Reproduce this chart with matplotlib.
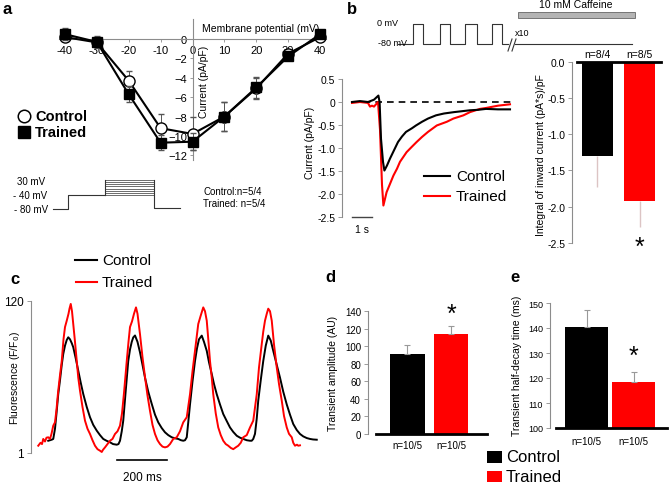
import numpy as np
import matplotlib
matplotlib.use("Agg")
import matplotlib.pyplot as plt
from matplotlib.patches import Rectangle

plt.rcParams['font.family'] = ['Liberation Sans', 'DejaVu Sans']

# ---------------- data ----------------
# panel a: I-V relation
iv_voltage = [-40, -30, -20, -10, 0, 10, 20, 30, 40]
iv_control = [0.2, -0.35, -4.3, -9.2, -9.8, -8.0, -5.1, -1.5, 0.2]
iv_control_err = [0.4, 0.5, 1.0, 1.5, 1.7, 1.5, 1.1, 0.3, 0.2]
iv_trained = [0.5, -0.3, -5.7, -10.7, -10.6, -8.0, -5.0, -1.8, 0.5]
iv_trained_err = [0.6, 0.6, 0.8, 0.8, 0.9, 1.5, 1.1, 0.3, 0.2]
step_levels_mv = [-40, -30, -20, -10, 0, 10, 20, 30]

# panel b: caffeine-induced current traces (time s, current pA/pF)
caf_ctrl_t = [0.0, 0.4, 0.8, 1.1, 1.32, 1.38, 1.45, 1.55, 1.62, 1.75, 1.9, 2.1, 2.3, 2.5, 2.7,
              3.0, 3.2, 3.5, 3.8, 4.2, 4.6, 5.1, 5.5, 5.9, 6.3, 6.7, 7.3, 7.9]
caf_ctrl_v = [0.0, 0.02, 0.0, 0.05, 0.14, 0.0, -0.8, -1.3, -1.49, -1.38, -1.23, -1.05, -0.87, -0.75, -0.65,
              -0.57, -0.51, -0.43, -0.36, -0.29, -0.25, -0.22, -0.2, -0.18, -0.17, -0.15, -0.16, -0.16]
caf_tr_t = [0.0, 0.4, 0.8, 0.9, 1.0, 1.1, 1.3, 1.4, 1.5, 1.57, 1.73, 1.9, 2.07, 2.25, 2.4, 2.73,
            3.0, 3.23, 3.5, 3.8, 4.24, 4.74, 5.07, 5.57, 5.9, 6.4, 6.7, 7.3, 7.9]
caf_tr_v = [-0.02, 0.0, -0.02, -0.1, -0.08, -0.1, 0.0, -0.6, -1.8, -2.25, -1.96, -1.78, -1.6, -1.45, -1.3, -1.09,
            -0.97, -0.87, -0.76, -0.65, -0.51, -0.43, -0.36, -0.29, -0.22, -0.15, -0.13, -0.08, -0.05]

# panel b: integral of inward current
integ_groups = ['Control', 'Trained']
integ_vals = [-1.30, -1.92]
integ_err = [0.43, 0.36]
integ_n = ['n=8/4', 'n=8/5']

# panel c: calcium transients (time ms, F/F0)
ca_tr_t = [0, 9, 15, 20, 27, 33, 40, 47, 53, 60, 67, 73, 79, 87, 94, 101, 107, 114, 121, 125, 130, 135, 140,
           147, 154, 160, 167, 177, 187, 197, 207, 217, 227, 237, 247, 254, 259, 267, 277, 287, 297, 307, 317,
           327, 335, 343, 354, 361, 367, 375, 383, 391, 397, 407, 417, 427, 437, 447, 457, 467, 477, 487, 497,
           507, 517, 527, 540, 554, 567, 580, 594, 607, 617, 627, 640, 649, 660, 667, 674, 681, 687, 694, 700,
           710, 720, 730, 740, 750, 760, 770, 780, 790, 800, 810, 820, 834, 847, 860, 874, 883, 894, 900, 907,
           914, 920, 927, 934, 943, 954, 963, 974, 983, 994, 1003, 1014, 1020, 1027, 1035, 1040, 1047]
ca_tr_v = [6.7, 9, 8, 12, 10, 13, 13.3, 12, 16, 22.4, 25, 35, 48, 62, 73, 90, 99.6, 104.6, 110, 114, 117.7, 112,
           102, 88, 73, 60, 49.8, 37, 26.3, 20, 15.9, 11, 6.7, 4, 2.8, 1.8, 3.5, 5.4, 8, 10.6, 12, 15.9, 18,
           22.4, 32, 48, 73, 88, 99.6, 104, 110, 115, 110, 94, 76, 60.5, 46, 34, 23, 15.9, 11, 8, 6,
           5.4, 6, 8, 12, 13.3, 18, 25, 29, 47, 65, 81, 102, 108, 115, 112, 104.6, 88, 73, 60, 47,
           32, 21, 15, 10.6, 8, 6.7, 5, 4, 5.4, 6.7, 9, 13.3, 15, 21, 26.3, 47, 68, 86.3, 96, 104.6,
           110, 114, 112, 104.6, 86, 68, 55, 42, 30, 21, 16, 13.3, 9, 6.7, 7.5, 6.7, 7]
ca_ct_t = [40, 47, 55, 60, 67, 73, 80, 87, 94, 100, 107, 114, 120, 127, 134, 140, 150, 160, 170, 180, 194, 207,
           220, 234, 247, 260, 274, 287, 299, 314, 321, 327, 334, 340, 350, 360, 367, 374, 380, 387, 397, 407,
           417, 427, 440, 454, 467, 480, 494, 507, 520, 534, 547, 560, 571, 580, 587, 594, 600, 607, 617, 627,
           635, 643, 654, 663, 674, 683, 694, 703, 714, 727, 740, 754, 767, 780, 794, 807, 820, 834, 847, 854,
           860, 867, 874, 880, 890, 900, 910, 920, 930, 940, 954, 967, 980, 994, 1007, 1020, 1034, 1047, 1060,
           1074, 1087, 1099, 1114]
ca_ct_v = [10.6, 11, 11.5, 12, 20, 32, 47, 58, 70, 78.5, 85, 89.5, 91.6, 90, 87, 83.8, 75, 65.5, 56, 47.2, 37, 29,
           23, 18.5, 15, 12, 10.5, 9.4, 8, 7.5, 8, 10.6, 18, 26.3, 50, 73, 82, 88, 91.5, 93, 88, 79.8,
           70, 60, 49, 39.4, 31, 25, 20.5, 17.2, 15, 13.3, 12.5, 12, 11, 10.6, 11, 13.3, 25, 39, 57, 73,
           83, 90, 92.9, 88, 81, 72, 62.8, 55, 47, 39, 31.5, 26, 21, 17.5, 14.5, 13, 12, 11, 10.6, 10.6,
           12, 16, 28, 42, 58, 73, 85, 92.9, 89, 81, 70, 60, 49, 39, 31, 23.7, 19, 15.9, 14,
           12.7, 12, 11.6, 11.4]

# panel d / e
amp_vals = [91, 114]
amp_err = [10, 9]
decay_vals = [140.5, 118.4]
decay_err = [6.8, 4.0]
de_n = ['n=10/5', 'n=10/5']

BLACK = '#000000'
RED = '#ff0000'
GREY = '#8c8c8c'
W, H = 669, 489

fig = plt.figure(figsize=(W / 100, H / 100), dpi=100)

ov = fig.add_axes([0, 0, 1, 1])
ov.set_xlim(0, W)
ov.set_ylim(H, 0)
ov.axis('off')


def px_axes(l, t, r, b):
    return fig.add_axes([l / W, 1 - b / H, (r - l) / W, (b - t) / H])


def style_left(ax, fs):
    for s in ['top', 'right', 'bottom']:
        ax.spines[s].set_visible(False)
    ax.spines['left'].set_color(GREY)
    ax.spines['left'].set_linewidth(0.8)
    ax.tick_params(axis='y', length=3, width=0.6, color=GREY, labelsize=fs, pad=2)
    ax.set_xticks([])
    ax.patch.set_alpha(0)


# ---------------- panel a ----------------
axA = px_axes(55, 15, 330, 165)
axA.patch.set_alpha(0)
axA.set_xlim(-43.1, 43.1)
axA.set_ylim(-12.9, 2.58)
for s in ['top', 'right']:
    axA.spines[s].set_visible(False)
axA.spines['left'].set_position(('data', 0))
axA.spines['bottom'].set_position(('data', 0))
axA.spines['left'].set_bounds(-12.5, 2.1)
axA.spines['bottom'].set_bounds(-42, 42)
for s in ['left', 'bottom']:
    axA.spines[s].set_color(GREY)
    axA.spines[s].set_linewidth(0.8)
axA.set_xticks(iv_voltage)
axA.set_xticklabels([str(v) for v in iv_voltage])
axA.set_yticks([0, -2, -4, -6, -8, -10, -12])
axA.tick_params(axis='both', length=2, width=0.6, color=GREY, labelsize=8, pad=2)
axA.errorbar(iv_voltage, iv_control, yerr=iv_control_err, fmt='-o', color=BLACK, mfc='white',
             mec=BLACK, ms=8, mew=1.0, lw=1.5, capsize=2, elinewidth=0.7, ecolor='#555555', zorder=3)
axA.errorbar(iv_voltage, iv_trained, yerr=iv_trained_err, fmt='-s', color=BLACK, mfc=BLACK,
             mec=BLACK, ms=6.5, lw=1.5, capsize=2, elinewidth=0.7, ecolor='#555555', zorder=4)
ov.text(261, 29, 'Membrane potential (mV)', ha='center', va='center', fontsize=7.5)
ov.text(204, 82, 'Current (pA/pF)', ha='center', va='center', fontsize=7.5, rotation=90)
ov.plot([24], [117], marker='o', ms=9, mfc='white', mec=BLACK, mew=1.1)
ov.text(35, 117, 'Control', fontsize=10.5, fontweight='bold', va='center')
ov.plot([24], [133], marker='s', ms=8, mfc=BLACK, mec=BLACK)
ov.text(35, 133, 'Trained', fontsize=10.5, fontweight='bold', va='center')

# protocol a
ov.plot([53, 68, 68, 105], [210, 210, 196, 196], color='#333333', lw=0.8)
for mv in step_levels_mv:
    yy = 196 - (mv + 40) / 70 * 15
    ov.plot([105, 154], [yy, yy], color='#555555', lw=0.6)
ov.plot([105, 105], [196, 181], color='#333333', lw=0.8)
ov.plot([154, 154, 180], [181, 209, 209], color='#333333', lw=0.8)
ov.text(45, 182, '30 mV', ha='right', va='center', fontsize=7)
ov.text(47, 196, '- 40 mV', ha='right', va='center', fontsize=7)
ov.text(48, 210, '- 80 mV', ha='right', va='center', fontsize=7)
ov.text(203, 192, 'Control:n=5/4', ha='left', va='center', fontsize=7)
ov.text(203, 204, 'Trained: n=5/4', ha='left', va='center', fontsize=7)

# ---------------- panel b protocol ----------------
ov.plot([398, 413, 413, 423, 423, 440, 440, 450, 450, 465, 465, 477, 477, 492, 492, 502, 502, 508],
        [45, 45, 25, 25, 45, 45, 25, 25, 45, 45, 25, 25, 45, 45, 25, 25, 45, 45], color='#333333', lw=0.8)
ov.plot([515, 632], [45, 45], color='#333333', lw=0.8)
ov.plot([508, 512], [52, 40], color='#333333', lw=0.8)
ov.plot([512, 516], [52, 40], color='#333333', lw=0.8)
ov.text(515, 33, 'x10', fontsize=6.5, va='center', ha='left')
ov.text(398, 23, '0 mV', fontsize=6.5, va='center', ha='right')
ov.text(407, 43, '-80 mV', fontsize=6.5, va='center', ha='right')
ov.add_patch(Rectangle((518, 13), 117, 6, facecolor='#b4b4b4', edgecolor='#666666', lw=0.6))
ov.text(576, 5, '10 mM Caffeine', fontsize=7.5, ha='center', va='center')

# ---------------- panel b trace ----------------
axB = px_axes(342, 80, 520, 218)
style_left(axB, 7.5)
axB.set_xlim(-0.5, 8.4)
axB.set_ylim(-2.5, 0.5)
axB.set_yticks([0.5, 0, -0.5, -1.0, -1.5, -2.0, -2.5])
axB.set_yticklabels(['0.5', '0', '-0.5', '-1.0', '-1.5', '-2.0', '-2.5'])
axB.plot([0, 8], [0, 0], color=BLACK, lw=1.2, dashes=(4, 3))
axB.plot(caf_tr_t, caf_tr_v, color=RED, lw=1.5)
axB.plot(caf_ctrl_t, caf_ctrl_v, color=BLACK, lw=1.5)
axB.plot([0, 1], [-2.5, -2.5], color='#444444', lw=1, clip_on=False)
axB.text(0.5, -2.76, '1 s', ha='center', va='center', fontsize=7.5)
ov.text(310, 143, 'Current (pA/pF)', rotation=90, ha='center', va='center', fontsize=7.5)
ov.plot([424, 450], [177, 177], color=BLACK, lw=1.5)
ov.text(456, 177, 'Control', fontsize=11, va='center')
ov.plot([424, 450], [197, 197], color=RED, lw=1.5)
ov.text(456, 197, 'Trained', fontsize=11, va='center')

# ---------------- panel b bar ----------------
axBB = px_axes(572, 62.7, 665, 244)
style_left(axBB, 7.5)
axBB.set_xlim(-0.607, 1.607)
axBB.set_ylim(-2.5, 0)
xb = np.arange(len(integ_groups))
axBB.bar(xb, integ_vals, width=0.76, color=[BLACK, RED])
axBB.errorbar(xb, integ_vals, yerr=[integ_err, [0, 0]], fmt='none', ecolor='#dcc4c4',
              elinewidth=1.0, capsize=0)
axBB.plot([-0.488, 1.512], [0, 0], color=BLACK, lw=2, clip_on=False)
axBB.set_yticks([0, -0.5, -1.0, -1.5, -2.0, -2.5])
axBB.set_yticklabels(['0.0', '-0.5', '-1.0', '-1.5', '-2.0', '-2.5'])
for i, t in enumerate(integ_n):
    axBB.text(xb[i], 0.106, t, ha='center', va='center', fontsize=7.5)
axBB.text(1, -2.55, '*', ha='center', va='center', fontsize=18)
ov.text(541, 155, 'Integral of inward current (pA*s)/pF', rotation=90, ha='center', va='center',
        fontsize=7.5)

# ---------------- panel c ----------------
axC = px_axes(31, 302, 320, 454)
style_left(axC, 8.5)
axC.set_xlim(-29, 1127)
axC.set_ylim(1, 120)
axC.set_yticks([1, 120])
axC.plot(ca_ct_t, ca_ct_v, color=BLACK, lw=1.4)
axC.plot(ca_tr_t, ca_tr_v, color=RED, lw=1.4)
axC.plot([315, 515], [-4.5, -4.5], color=BLACK, lw=1.2, clip_on=False)
axC.text(415, -17.8, '200 ms', ha='center', va='center', fontsize=8.5)
ov.text(15, 378, 'Fluorescence (F/F$_0$)', rotation=90, ha='center', va='center', fontsize=7.5)
ov.plot([75, 97], [261, 261], color=BLACK, lw=1.5)
ov.text(102, 261, 'Control', fontsize=11, va='center')
ov.plot([76, 97], [283, 283], color=RED, lw=1.5)
ov.text(102, 283, 'Trained', fontsize=11, va='center')

# ---------------- panel d ----------------
axD = px_axes(368, 312, 490, 435)
style_left(axD, 7)
axD.set_xlim(-0.908, 1.897)
axD.set_ylim(0, 140)
xd = np.arange(2)
axD.bar(xd, amp_vals, width=0.8, color=[BLACK, RED])
axD.errorbar(xd, amp_vals, yerr=[[0, 0], amp_err], fmt='none', ecolor='#999999', elinewidth=0.8,
             capsize=2, capthick=0.8)
axD.plot([-0.724, 1.828], [0, 0], color=BLACK, lw=2, clip_on=False)
axD.set_yticks(range(0, 141, 20))
for i, t in enumerate(de_n):
    axD.text(xd[i], -12.5, t, ha='center', va='center', fontsize=7)
axD.text(1, 137, '*', ha='center', va='center', fontsize=18)
ov.text(333, 373, 'Transient amplitude (AU)', rotation=90, ha='center', va='center', fontsize=7.5)

# ---------------- panel e ----------------
axE = px_axes(550, 304, 668, 429)
style_left(axE, 6.5)
axE.set_xlim(-0.777, 1.734)
axE.set_ylim(100, 150)
xe = np.arange(2)
axE.bar(xe, np.array(decay_vals) - 100, bottom=100, width=0.9, color=[BLACK, RED])
axE.errorbar(xe, decay_vals, yerr=[[0, 0], decay_err], fmt='none', ecolor='#999999', elinewidth=0.8,
             capsize=2, capthick=0.8)
axE.plot([-0.649, 1.713], [100, 100], color=BLACK, lw=2, clip_on=False)
axE.set_yticks(range(100, 151, 10))
for i, t in enumerate(de_n):
    axE.text(xe[i], 94.8, t, ha='center', va='center', fontsize=7)
axE.text(1, 129, '*', ha='center', va='center', fontsize=18)
ov.text(517, 366, 'Transient half-decay time (ms)', rotation=90, ha='center', va='center', fontsize=7.5)

# bottom legend
ov.add_patch(Rectangle((487, 452), 15, 12, facecolor=BLACK, edgecolor='none'))
ov.text(506, 458, 'Control', fontsize=12, va='center')
ov.add_patch(Rectangle((487, 472), 15, 11, facecolor=RED, edgecolor='none'))
ov.text(506, 478, 'Trained', fontsize=12, va='center')

# panel letters
for lab, x, y in [('a', 7, 10), ('b', 352, 10), ('c', 15, 280), ('d', 330, 278), ('e', 515, 278)]:
    ov.text(x, y, lab, fontsize=12, fontweight='bold', ha='center', va='center')

fig.savefig('out.png', dpi=100)
